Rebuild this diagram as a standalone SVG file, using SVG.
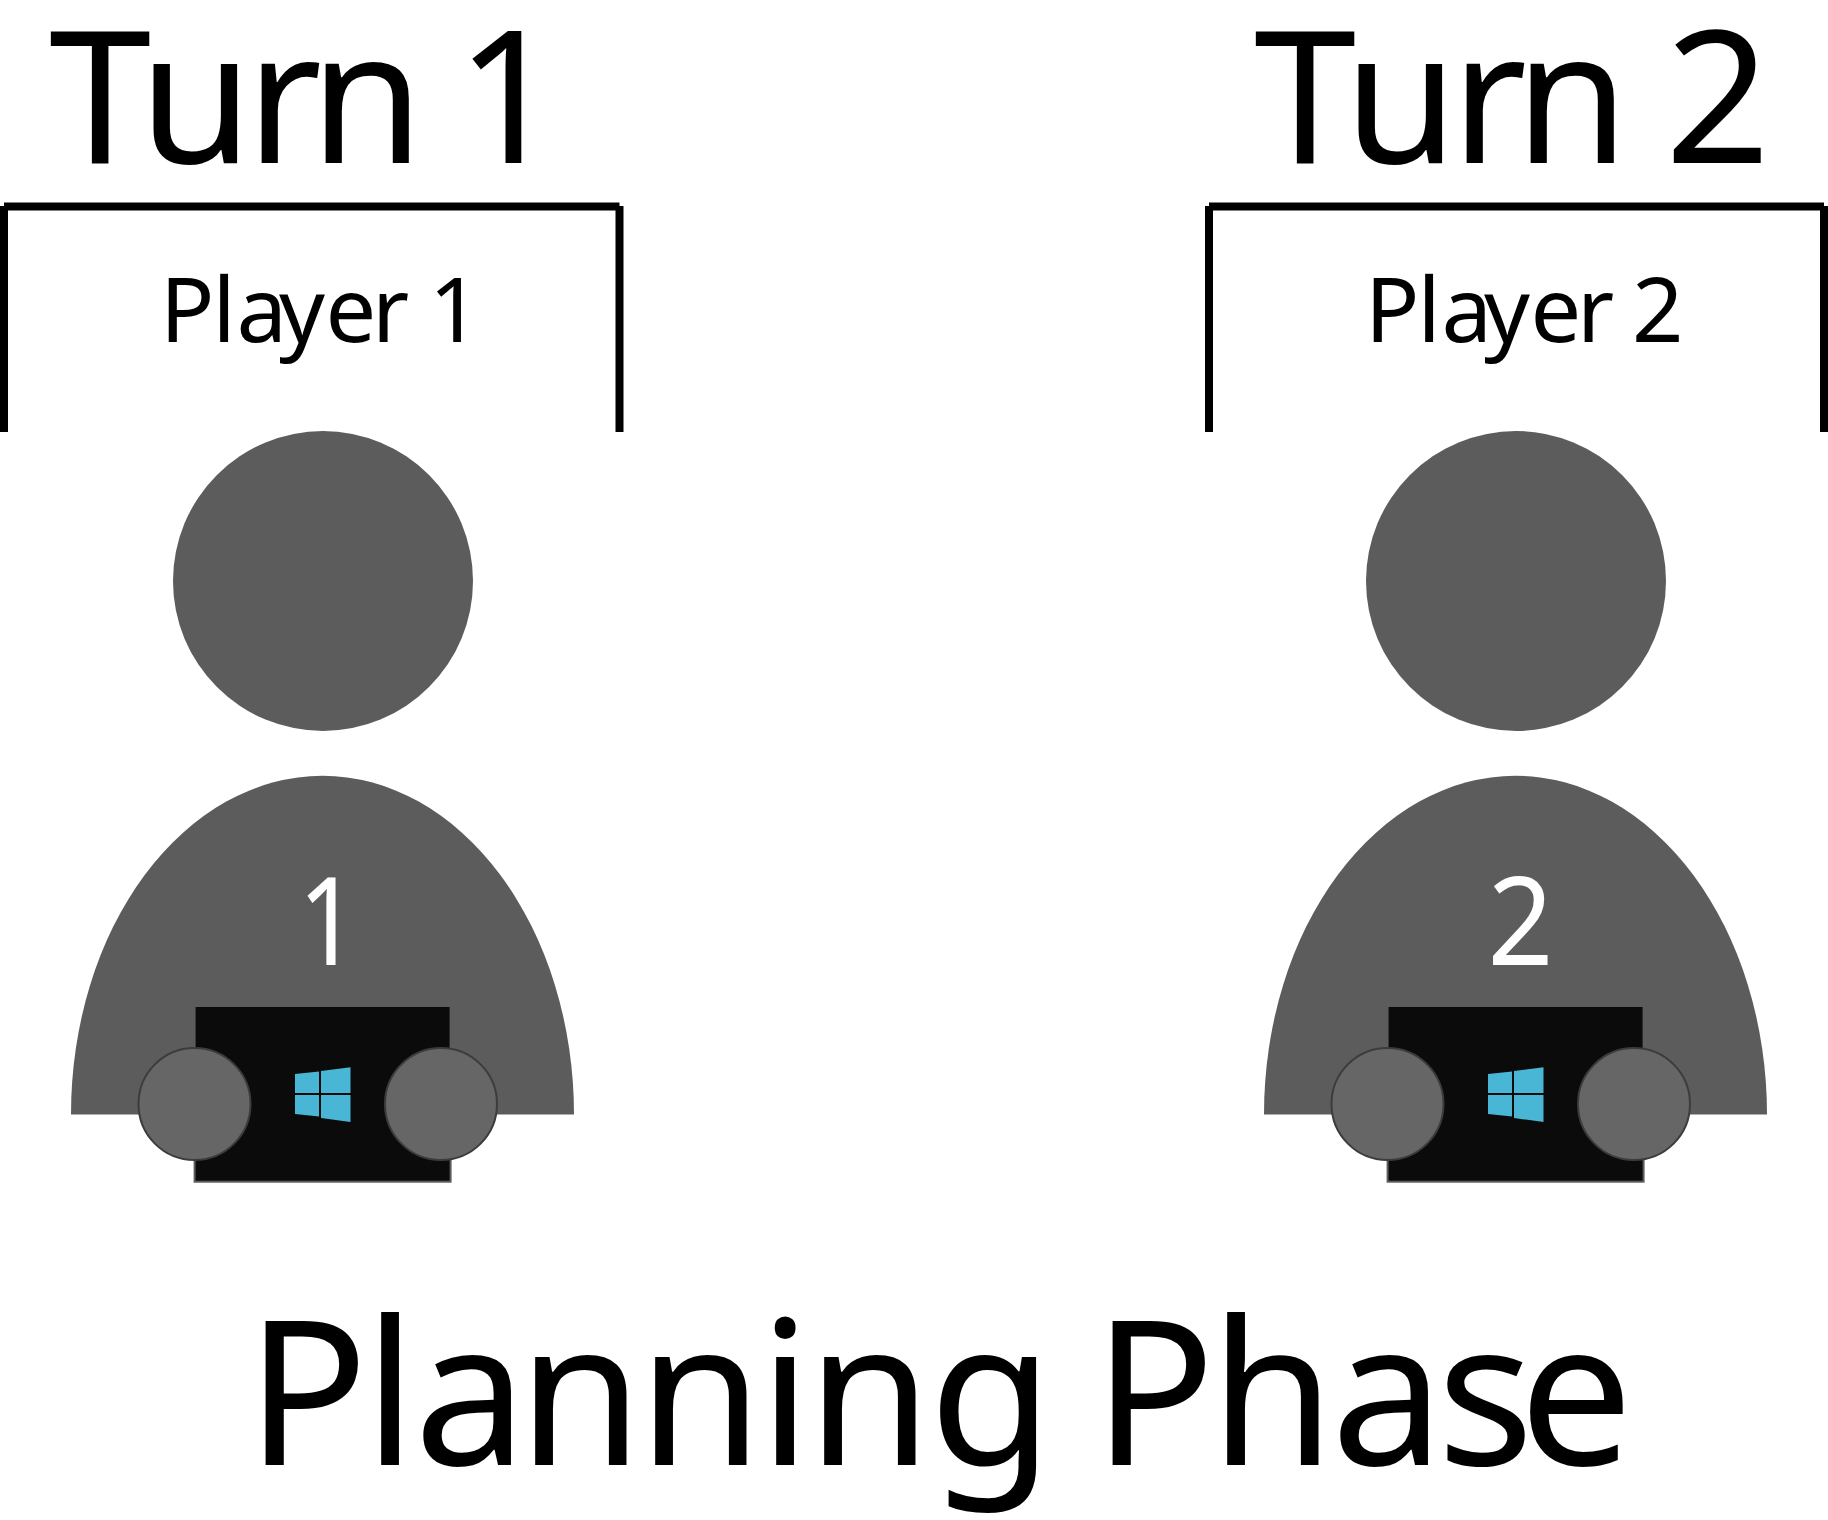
<svg xmlns="http://www.w3.org/2000/svg" width="1828" height="1520" viewBox="0 0 1828 1520">
<style>
text{font-family:"Noto Sans","Open Sans","Liberation Sans",sans-serif;fill:#000}
.turn{font-size:184px}
.player{font-size:90px}
.num{font-size:122px;fill:#fff}
.phase{font-size:202px}
.bracket{fill:none;stroke:#000;stroke-width:8}
.head,.body{fill:#5c5c5c}
.tablet{fill:#0b0b0b;stroke:#5c5c5c;stroke-width:2}
.hand{fill:#666;stroke:#3c3c3c;stroke-width:2}
.logo{fill:#4ab6d6}
</style>
<defs>
<g id="person">
<circle class="head" cx="323" cy="581" r="150"/>
<path class="body" d="M71 1114.500A251 338 0 0 1 574 1114.500Z"/>
<rect class="tablet" x="194.600" y="1006" width="256" height="175.700"/>
<path class="logo" d="M295 1074L319 1071.500V1093H295ZM321 1071L350.500 1067.300V1093H321ZM295 1095H319V1116.500L295 1114ZM321 1095H350.500V1122L321 1118Z"/>
<circle class="hand" cx="194.500" cy="1104" r="56"/>
<circle class="hand" cx="441" cy="1104" r="56"/>
</g>
</defs>
<g id="turn1">
<text class="turn" x="49 139 246 310 400 456" y="163">Turn 1</text>
<path class="bracket" d="M4 432V206M4 206.500H619.500M619.500 206V432"/>
<text class="player" x="160 212.500 236.500 279 325.500 372 410 429" y="341.500">Player 1</text>
</g>
<g id="player1"><use href="#person"/><text class="num" x="298.300" y="965" textLength="60" lengthAdjust="spacingAndGlyphs">1</text></g>
<g id="turn2">
<text class="turn" x="1254 1344 1451 1515 1605 1665" y="163">Turn 2</text>
<path class="bracket" d="M1209 432V206M1209 206.500H1824M1824 206V432"/>
<text class="player" x="1365 1417.500 1441.500 1484 1530.500 1577 1615 1632" y="341.500">Player 2</text>
</g>
<g id="player2"><use href="#person" x="1193"/><text class="num" x="1487.500" y="965" textLength="66" lengthAdjust="spacingAndGlyphs">2</text></g>
<text id="phase" class="phase" x="246 364 414 518 638 759 807 929 1050 1093 1210 1331 1437 1519" y="1465">Planning Phase</text>
<g id="connectors"/>
</svg>
